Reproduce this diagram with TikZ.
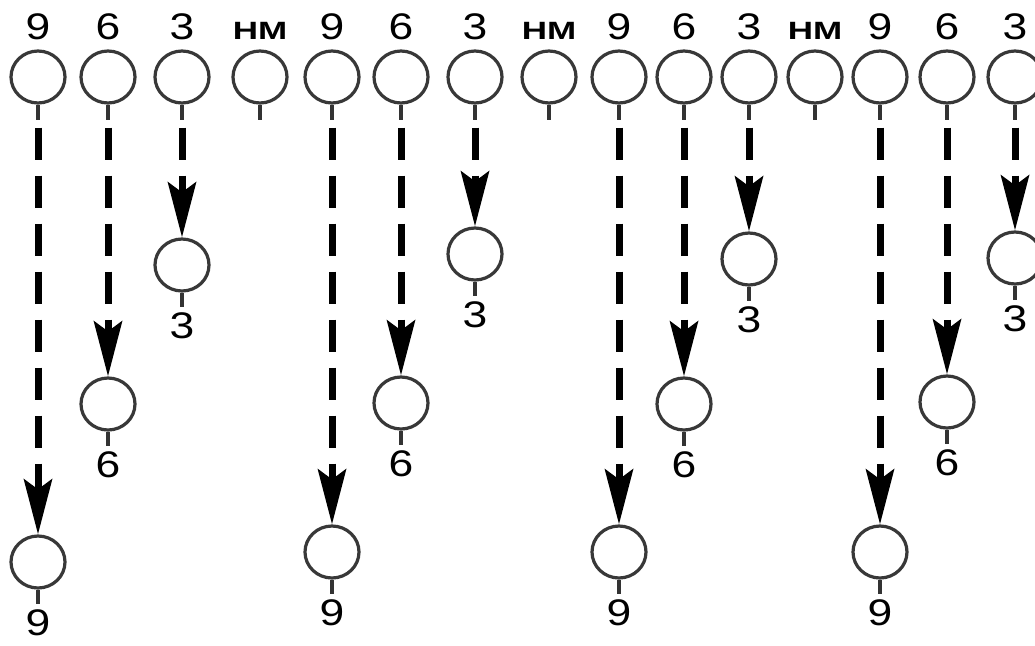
\documentclass[tikz,border=0pt]{standalone}
\usepackage{fontspec}
\setmainfont{Liberation Sans}
\usetikzlibrary{arrows.meta,shapes.geometric}
\tikzset{
  ring/.style={ellipse, draw=black!78, line width=3.2pt, minimum width=54pt, minimum height=52pt, inner sep=0pt, fill=white},
  stem/.style={draw=black!80, line width=4.5pt},
  dig/.style={font=\fontsize{37}{37}\selectfont, inner sep=0pt, anchor=base, xscale=1.2},
  hm/.style={font=\bfseries\fontsize{25}{25}\selectfont, inner sep=0pt, anchor=base, xscale=1.4},
  flow/.style={line width=7pt, dash pattern=on 32pt off 16pt, -{Stealth[length=55pt,width=28pt,inset=10pt]}},
}
\begin{document}
\begin{tikzpicture}[x=1pt,y=-1pt]
\clip (0,0) rectangle (1035,645);
\fill[white] (0,0) rectangle (1035,645);
% top row
\foreach \i/\x/\t/\s in {1/38/9/dig, 2/108/6/dig, 3/182/3/dig, 4/260/НМ/hm,
  5/332/9/dig, 6/401/6/dig, 7/475/3/dig, 8/549/НМ/hm,
  9/619/9/dig, 10/684/6/dig, 11/749/3/dig, 12/815/НМ/hm,
  13/880/9/dig, 14/947/6/dig, 15/1015/3/dig}{
  \node[ring] (t\i) at (\x,77) {};
  \draw[stem] (t\i.south) -- ++(0,15) coordinate (s\i);
  \node[\s] (tl\i) at (\x,39) {\t};
}
% targets and arrows
\foreach \i/\x/\y/\t in {1/38/562/9, 2/108/404/6, 3/182/265/3,
  5/332/552/9, 6/401/403/6, 7/475/254/3,
  9/619/552/9, 10/684/404/6, 11/749/259/3,
  13/880/552/9, 14/947/402/6, 15/1015/258/3}{
  \node[ring] (b\i) at (\x,\y) {};
  \draw[stem] (b\i.south) -- ++(0,14) coordinate (bs\i);
  \node[dig] (bl\i) at (\x,\y+73) {\t};
  \draw[flow] ([yshift=-8pt]s\i) -- (b\i.north);
}
\end{tikzpicture}
\end{document}
